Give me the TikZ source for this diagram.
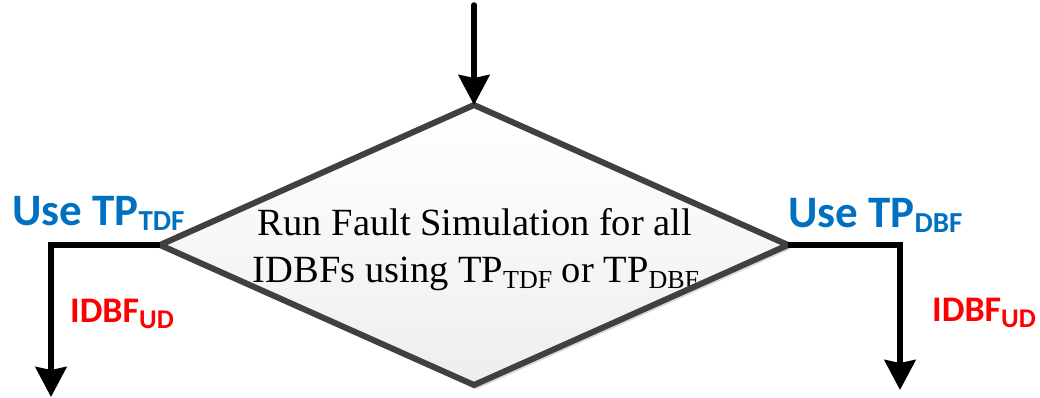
\documentclass[tikz,border=0pt]{standalone}
\usepackage{fontspec}
\setmainfont{Liberation Serif}
\newfontfamily\labelfont{Carlito}
\newfontfamily\bodyfont{Liberation Serif}
\usetikzlibrary{arrows.meta,shapes.geometric,shadows}

\definecolor{tpblue}{HTML}{0070C0}
\definecolor{udred}{HTML}{FF0000}
\definecolor{edgegray}{HTML}{404040}
\definecolor{fillbot}{HTML}{EEEEEE}

% subscripts for the bold labels and for the body text
\newcommand\bigsub[1]{\raisebox{-5pt}{\fontsize{29}{29}\selectfont #1}}
\newcommand\smallsub[1]{\raisebox{-6pt}{\fontsize{27}{27}\selectfont #1}}
\newcommand\bodysub[1]{\raisebox{-6pt}{\fontsize{26}{26}\selectfont #1}}

\begin{document}
\begin{tikzpicture}[x=1pt,y=-1pt,
  flow/.style={line width=5.5pt,black,
    -{Stealth[length=30pt,width=31pt,inset=3pt]}},
  decision/.style={diamond,minimum width=628pt,minimum height=280pt,
    inner sep=0pt,outer sep=0pt},
  tplabel/.style={inner sep=0pt,anchor=base west,text=tpblue,
    font=\labelfont\bfseries\fontsize{45}{45}\selectfont},
  udlabel/.style={inner sep=0pt,anchor=base west,text=udred,
    font=\labelfont\bfseries\fontsize{36}{36}\selectfont},
  bodyline/.style={inner sep=0pt,anchor=base,
    font=\bodyfont\fontsize{38.5}{38.5}\selectfont},
]
\useasboundingbox (0,0) rectangle (1040,398);

% decision diamond: shaded body with a soft shadow
\node[decision,top color=white,bottom color=fillbot,
  drop shadow={shadow xshift=3pt,shadow yshift=-4pt,fill=black!25,opacity=0.6}]
  (d) at (474,245) {};

% text inside the diamond
\node[bodyline] (line1) at (475,235) {Run Fault Simulation for all};
\node[bodyline] (line2) at (476,282)
  {IDBFs using TP\bodysub{TDF} or TP\bodysub{DBF}};

% diamond outline, drawn over the text
\draw[edgegray,line width=6pt,line join=miter]
  (d.north) -- (d.east) -- (d.south) -- (d.west) -- cycle;

% incoming arrow
\coordinate (in) at (474,5);
\draw[flow,line cap=round] (in) -- (d.north);

% left branch
\coordinate (lcorner) at (51,245);
\coordinate (lend) at (51,397);
\draw[flow,line join=miter] (d.west) -- (lcorner) -- (lend);

% right branch
\coordinate (rcorner) at (900,245);
\coordinate (rend) at (900,390);
\draw[flow,line join=miter] (d.east) -- (rcorner) -- (rend);

% branch labels
\node[tplabel] (usetdf) at (12,225) {Use TP\bigsub{TDF}};
\node[tplabel] (usedbf) at (788,227) {Use TP\bigsub{DBF}};
\node[udlabel] (udleft) at (70,322) {IDBF\smallsub{UD}};
\node[udlabel] (udright) at (932,321) {IDBF\smallsub{UD}};
\end{tikzpicture}
\end{document}
